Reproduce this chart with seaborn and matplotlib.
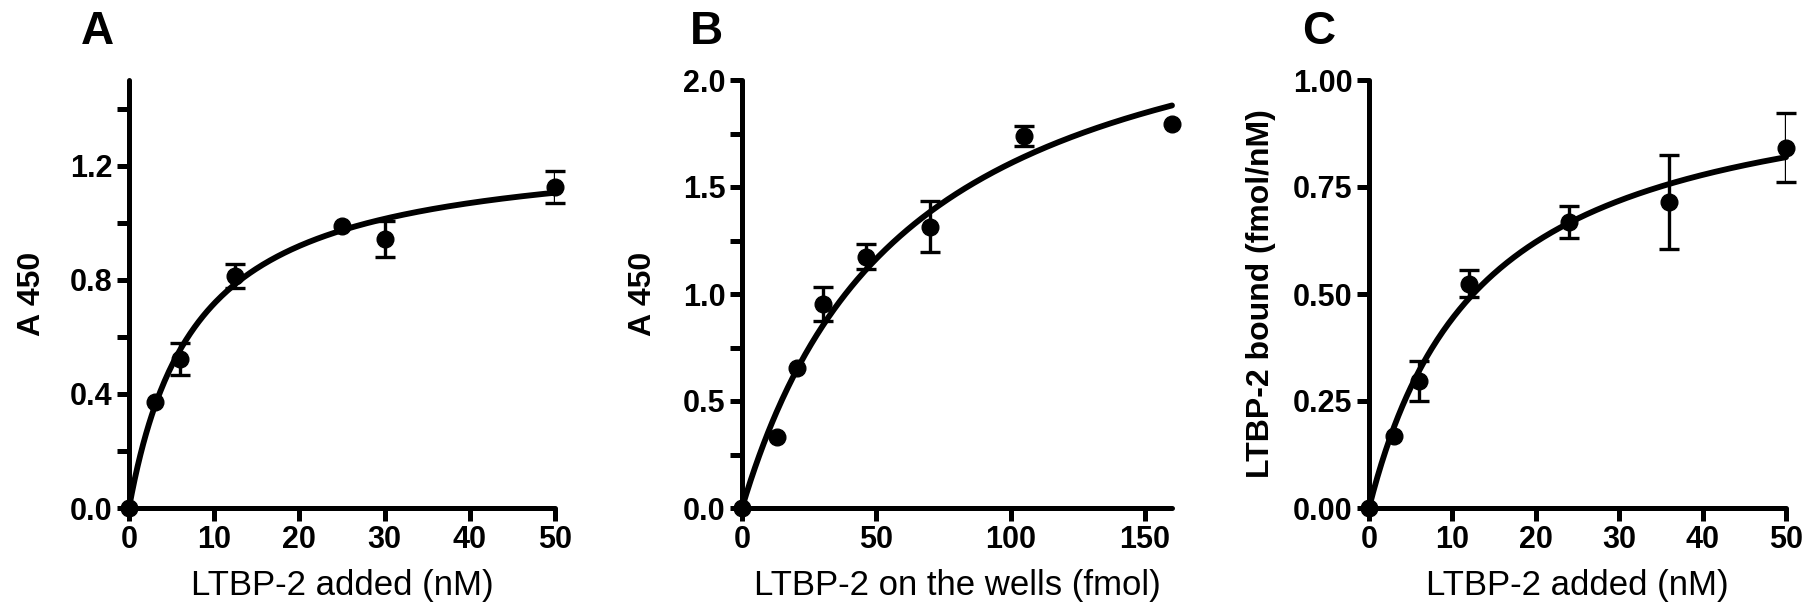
import numpy as np
import matplotlib
matplotlib.use("Agg")
import matplotlib.pyplot as plt
import seaborn as sns

# Panel A: LTBP-2 added (nM) vs A450
a_x = [0, 3, 6, 12.5, 25, 30, 50]
a_y = [0, 0.373, 0.522, 0.814, 0.990, 0.942, 1.125]
a_err = [0, 0, 0.056, 0.042, 0, 0.063, 0.055]
a_bmax, a_kd = 1.278, 7.83

# Panel B: LTBP-2 on the wells (fmol) vs A450
b_x = [0, 13, 20.5, 30, 46, 70, 105, 160]
b_y = [0, 0.333, 0.655, 0.955, 1.175, 1.315, 1.738, 1.793]
b_err = [0, 0, 0, 0.08, 0.057, 0.118, 0.045, 0]
b_bmax, b_kd = 2.61, 62.0

# Panel C: LTBP-2 added (nM) vs bound (fmol/nM)
c_x = [0, 3, 6, 12, 24, 36, 50]
c_y = [0, 0.169, 0.297, 0.524, 0.668, 0.715, 0.842]
c_err = [0, 0, 0.047, 0.031, 0.038, 0.109, 0.08]
c_bmax, c_kd = 1.041, 13.5

sns.set_style("ticks")
plt.rcParams['font.family'] = ['Liberation Sans', 'DejaVu Sans']
plt.rcParams['text.color'] = 'black'
plt.rcParams['axes.labelcolor'] = 'black'
plt.rcParams['xtick.color'] = 'black'
plt.rcParams['ytick.color'] = 'black'

fig = plt.figure(figsize=(18.06, 6.09), dpi=100)

panels = [
    dict(x=a_x, y=a_y, err=a_err, bmax=a_bmax, kd=a_kd, xmax=50, ymax=1.5,
         xticks=np.arange(0, 51, 10), yticks=np.arange(0, 1.41, 0.2), ylab_every=2,
         xlabel="LTBP-2 added (nM)", ylabel="A 450", ylabfmt="{:.1f}",
         rect=[129 / 1806, 101 / 609, 426 / 1806, 428 / 609], letter="A", lx=97, lpad=16),
    dict(x=b_x, y=b_y, err=b_err, bmax=b_bmax, kd=b_kd, xmax=160, ymax=2.0,
         xticks=np.arange(0, 151, 50), yticks=np.arange(0, 2.01, 0.25), ylab_every=2,
         xlabel="LTBP-2 on the wells (fmol)", ylabel="A 450", ylabfmt="{:.1f}",
         rect=[742 / 1806, 101 / 609, 430 / 1806, 428 / 609], letter="B", lx=706, lpad=18),
    dict(x=c_x, y=c_y, err=c_err, bmax=c_bmax, kd=c_kd, xmax=50, ymax=1.0,
         xticks=np.arange(0, 51, 10), yticks=np.arange(0, 1.01, 0.25), ylab_every=1,
         xlabel="LTBP-2 added (nM)", ylabel="LTBP-2 bound (fmol/nM)", ylabfmt="{:.2f}",
         rect=[1369 / 1806, 101 / 609, 417 / 1806, 428 / 609], letter="C", lx=1319, lpad=12),
]

for p in panels:
    ax = fig.add_axes(p["rect"])
    # one-site binding fit curve
    xs = np.linspace(0, p["xmax"], 300)
    fit = p["bmax"] * xs / (p["kd"] + xs)
    sns.lineplot(x=xs, y=fit, ax=ax, color="black", linewidth=4.2)

    px = np.array(p["x"])
    py = np.array(p["y"])
    pe = np.array(p["err"])
    has_err = pe > 0
    ax.errorbar(px[has_err], py[has_err], yerr=pe[has_err], fmt="none", ecolor="black",
                elinewidth=2.4, capsize=7, capthick=2.4, zorder=4)
    ax.plot(px, py, "o", color="black", markersize=12, zorder=5)
    for line in ax.lines:
        line.set_clip_on(False)

    ax.set_xlim(0, p["xmax"])
    ax.set_ylim(0, p["ymax"])
    ax.set_xticks(p["xticks"])
    ax.set_yticks(p["yticks"])
    ax.set_xticklabels([str(int(t)) for t in p["xticks"]], fontsize=22, fontweight="bold")
    ylabs = [p["ylabfmt"].format(t) if i % p["ylab_every"] == 0 else "" for i, t in enumerate(p["yticks"])]
    ax.set_yticklabels(ylabs, fontsize=22, fontweight="bold")
    ax.tick_params(axis="both", direction="out", length=9, width=3.6, pad=3, color="black")

    sns.despine(ax=ax)
    for s in ["left", "bottom"]:
        ax.spines[s].set_linewidth(3.6)
        ax.spines[s].set_color("black")
        ax.spines[s].set_capstyle("round")

    ax.set_xlabel(p["xlabel"], fontsize=25, labelpad=10)
    ax.set_ylabel(p["ylabel"], fontsize=23, fontweight="bold", labelpad=p["lpad"])

    fig.text(p["lx"] / 1806, 1 - 32 / 609, p["letter"], ha="center", va="center",
             fontsize=33, fontweight="bold")

fig.savefig("out.png", dpi=100, facecolor="white")
